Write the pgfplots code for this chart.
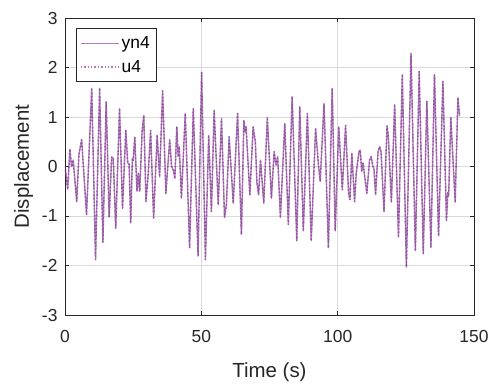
\documentclass[border=0pt]{standalone}
\usepackage{pgfplots}
\usepackage{pgfplotstable}
\pgfplotsset{compat=1.18}
\usepackage{fontspec}
\setmainfont{Liberation Sans}
\definecolor{mpurple}{rgb}{0.494,0.184,0.556}
\definecolor{legpurple}{RGB}{180,120,196}
\definecolor{axgray}{rgb}{0.15,0.15,0.15}
\pgfplotstableread{
t y
0 0.0
1.0 -0.46
1.8 0.35
2.4 0.0
3.0 0.13
4.3 -0.71
5.1 0.24
6.1 0.54
7.9 -0.97
9.8 1.58
11.2 -1.88
12.7 1.58
13.9 -1.53
15.1 1.31
16.2 -1.02
17.1 0.19
17.7 0.17
18.6 -1.25
20.0 1.17
21.1 -0.84
22.3 0.73
23.0 0.07
23.5 0.05
24.1 -1.14
24.7 0.16
25.0 0.12
25.6 0.59
26.4 -0.50
26.9 -0.14
27.4 -0.50
28.3 0.73
28.9 1.03
29.7 -0.71
30.5 -0.17
31.4 0.73
32.5 -1.04
33.8 0.63
34.7 -0.21
35.8 1.53
37.0 -0.54
38.4 0.54
39.1 0.0
39.7 -0.07
40.3 -0.24
41.0 0.80
41.5 0.20
41.9 0.40
42.7 -0.64
44.1 1.07
45.7 -1.64
47.05 1.17
48.8 -1.81
50.1 1.90
51.5 -1.88
52.7 0.63
53.7 -0.91
54.7 1.13
56.2 -0.77
57.4 0.97
58.5 -1.03
59.2 -0.77
60.2 0.60
61.7 -0.74
63.3 1.07
64.7 -1.37
65.6 0.93
66.1 0.70
66.4 0.80
67.8 -0.57
69.0 0.80
69.8 0.50
70.4 -0.33
71.0 -0.57
71.7 0.13
72.9 -0.74
74.2 0.99
75.7 -0.64
76.7 0.30
77.4 0.03
78.0 0.20
79.0 -1.03
80.6 0.87
81.9 -1.17
83.3 1.41
85.0 -1.50
86.1 1.21
87.4 -1.30
88.9 1.07
90.3 -1.50
91.9 0.77
93.0 0.00
93.6 -0.30
95.0 1.27
96.6 -1.64
98.0 1.58
99.1 -1.30
100.4 0.80
101.7 -0.47
102.9 0.83
104.0 -0.54
104.5 -0.67
105.2 0.27
106.2 -0.71
106.8 -0.14
107.8 0.30
108.3 0.33
108.8 -0.10
109.3 0.07
110.7 -0.54
111.7 0.13
112.3 0.20
112.9 0.00
113.3 -0.03
113.9 -0.57
114.8 0.30
115.4 0.40
115.9 0.30
117.0 -0.91
118.1 0.82
118.6 0.60
119.7 -0.72
120.9 1.25
122.3 -1.43
123.7 1.86
125.2 -2.03
126.9 2.28
128.5 -1.70
129.9 1.92
131.4 -1.76
132.7 1.32
134.2 -1.63
135.5 1.86
137.0 -1.40
138.6 1.72
139.9 -1.09
140.4 -0.52
140.7 -0.60
141.5 0.99
143.1 -0.72
144.1 1.39
144.7 1.02
}\datatab
\begin{document}
\begin{tikzpicture}
\path[use as bounding box] (-65bp,-72bp) rectangle (430bp,315bp);
\begin{axis}[
  at={(0,0)}, anchor=south west,
  scale only axis,
  width=409bp, height=297bp,
  xmin=0, xmax=150, ymin=-3, ymax=3,
  xtick={0,50,100,150}, ytick={-3,-2,-1,0,1,2,3},
  /pgf/number format/assume math mode=true,
  ticklabel style={font=\fontsize{17.5}{20}\selectfont, text=axgray},
  xticklabel style={yshift=-12bp},
  yticklabel style={xshift=-4bp},
  label style={font=\fontsize{20.5}{24}\selectfont, text=axgray},
  xlabel={Time (s)}, ylabel={Displacement},
  xlabel style={yshift=-13bp},
  ylabel shift=2bp,
  axis line style={axgray, line width=0.6bp},
  tick style={axgray, line width=0.6bp},
  tick align=inside, major tick length=4bp,
  xtick pos=both, ytick pos=both,
  grid=major, major grid style={black!15, line width=0.6bp},
  legend style={at={(0.026,0.965)}, anchor=north west,
    font=\fontsize{17.5}{20}\selectfont, draw=axgray, line width=0.6bp,
    inner xsep=4bp, inner ysep=6bp, row sep=6bp, cells={anchor=west}},
  legend cell align=left,
]
\addplot[mpurple, line width=1.4bp, opacity=0.6, line join=round,
  legend image code/.code={\draw[legpurple, opacity=1, solid, line width=1.8bp] (0bp,0bp) -- (38bp,0bp);}]
  table[x=t,y=y] {\datatab};
\addlegendentry{yn4}
\addplot[mpurple, line width=1.4bp, opacity=0.6, dotted, line join=round,
  legend image code/.code={\draw[legpurple, opacity=1, line width=1.4bp, dotted] (0bp,0bp) -- (38bp,0bp);}]
  table[x=t,y=y] {\datatab};
\addlegendentry{u4}
\end{axis}
\end{tikzpicture}
\end{document}
